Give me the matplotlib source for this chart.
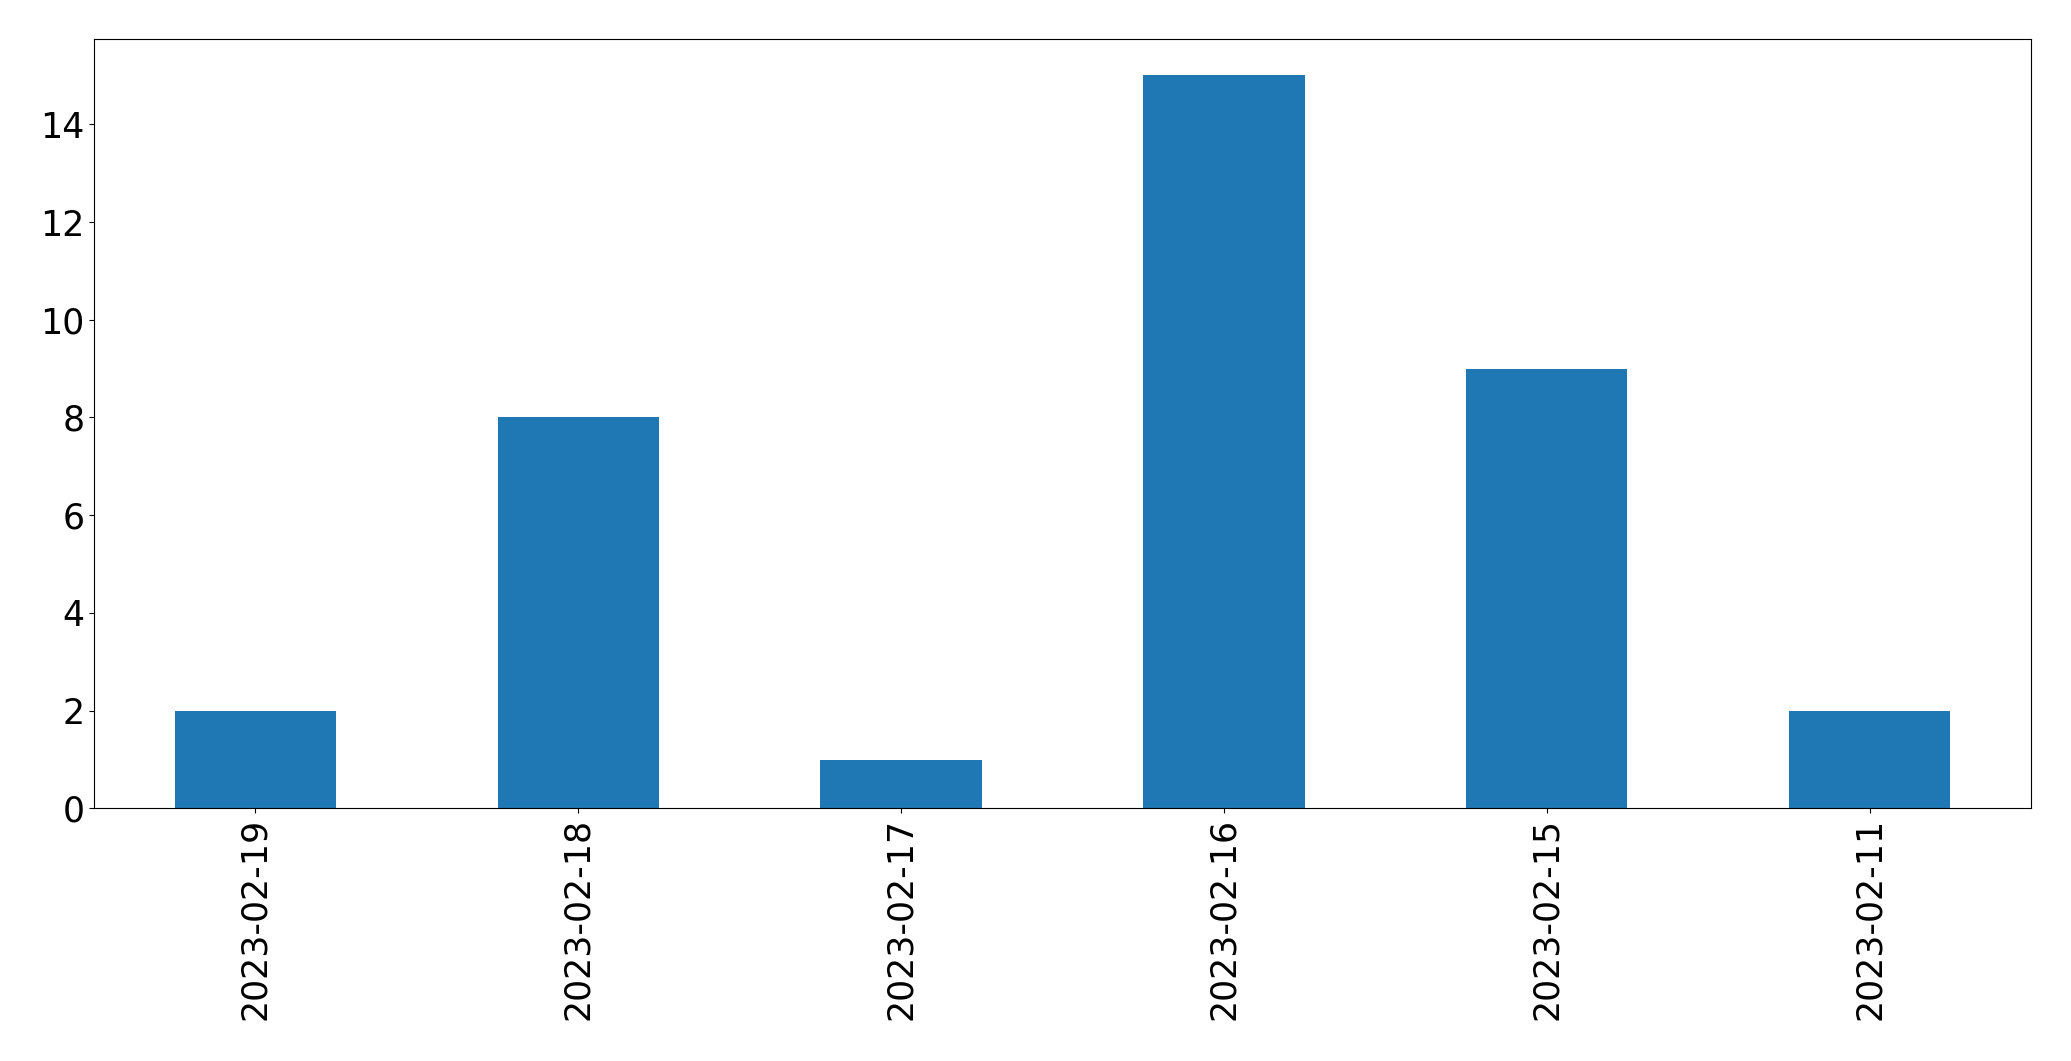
import matplotlib
matplotlib.use("Agg")
import matplotlib.pyplot as plt
import pandas as pd

dates = ["2023-02-19", "2023-02-18", "2023-02-17", "2023-02-16", "2023-02-15", "2023-02-11"]
counts = [2, 8, 1, 15, 9, 2]

s = pd.Series(counts, index=dates)
fig, ax = plt.subplots(figsize=(20.71, 10.61), dpi=100)
s.plot(kind="bar", ax=ax, color="#1f77b4")
ax.tick_params(axis="both", labelsize=25)
fig.subplots_adjust(left=0.0454, right=0.9807, top=0.9635, bottom=0.238)
fig.savefig("out.png", dpi=100)
